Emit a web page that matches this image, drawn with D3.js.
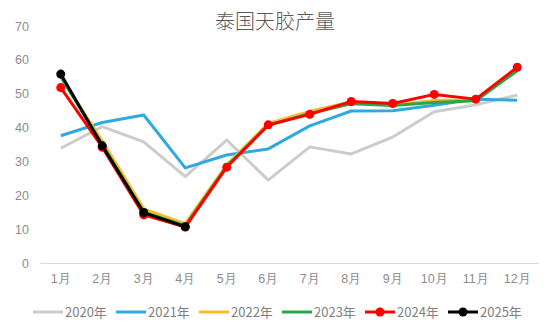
<!DOCTYPE html>
<html><head><meta charset="utf-8">
<script src="https://cdn.jsdelivr.net/npm/d3@7/dist/d3.min.js"></script>
<style>html,body{margin:0;padding:0;background:#fff;}svg{display:block;font-family:"Noto Sans CJK SC","Noto Sans",sans-serif;}</style>
</head><body><svg id="c" width="550" height="326"></svg>
<script>
const months = ["1月","2月","3月","4月","5月","6月","7月","8月","9月","10月","11月","12月"];
const yTicks = [0,10,20,30,40,50,60,70];
const seriesNames = ["2020年","2021年","2022年","2023年","2024年","2025年"];
const colors = ["#cccccc","#2eaae1","#f7bb2e","#28a745","#ff0000","#000000"];
const hasMarkers = [false,false,false,false,true,true];
const v2020 = [33.9,40.3,35.8,25.5,36.3,24.5,34.3,32.2,37.2,44.7,46.7,49.6];
const v2021 = [37.6,41.5,43.7,28.1,31.9,33.7,40.5,44.9,45.0,46.6,48.4,48.1];
const v2022 = [55.0,36.0,16.0,11.6,29.0,41.2,44.8,47.6,46.6,48.0,48.2,57.0];
const v2023 = [55.0,35.0,15.0,11.0,28.6,40.6,44.2,47.0,46.5,47.4,47.9,56.8];
const v2024 = [51.8,34.2,14.2,10.6,28.3,40.8,43.9,47.7,47.1,49.8,48.4,57.8];
const v2025 = [55.8,34.6,14.9,10.7];
const allValues = [v2020,v2021,v2022,v2023,v2024,v2025];

const svg = d3.select("#c");
const x = d3.scaleBand().domain(months).range([40,538]);
const y = d3.scaleLinear().domain([0,70]).range([263,26]);

svg.append("text").attr("x",275).attr("y",29).attr("text-anchor","middle")
  .attr("font-size",20).attr("font-weight",300).attr("fill","#595959").text("泰国天胶产量");

// y axis labels
const ya = svg.append("g").attr("transform","translate(40,0)")
  .call(d3.axisLeft(y).tickValues(yTicks).tickSize(0).tickPadding(11));
ya.select(".domain").remove();
ya.selectAll("text").attr("font-size",12.5).attr("fill","#8c8c8c").attr("font-family","inherit");

// x axis
const xa = svg.append("g").attr("transform","translate(0,263)")
  .call(d3.axisBottom(x).tickSize(0).tickPadding(11));
xa.select(".domain").attr("stroke","#d9d9d9").attr("stroke-width",1);
xa.selectAll("text").attr("font-size",12.5).attr("fill","#8c8c8c").attr("font-family","inherit");

const line = d3.line().x((d,i)=>x(months[i])+x.bandwidth()/2).y(d=>y(d));
allValues.forEach((vals,k)=>{
  svg.append("path").datum(vals).attr("d",line).attr("fill","none")
    .attr("stroke",colors[k]).attr("stroke-width",3).attr("stroke-linejoin","round");
  if(hasMarkers[k]){
    svg.append("g").selectAll("circle").data(vals).join("circle")
      .attr("cx",(d,i)=>x(months[i])+x.bandwidth()/2).attr("cy",d=>y(d))
      .attr("r",4.5).attr("fill",colors[k]);
  }
});

// legend
const lg = svg.append("g");
seriesNames.forEach((n,k)=>{
  const x0 = 33 + k*83, yy = 312;
  lg.append("line").attr("x1",x0).attr("x2",x0+30).attr("y1",yy).attr("y2",yy)
    .attr("stroke",colors[k]).attr("stroke-width",3);
  if(hasMarkers[k]) lg.append("circle").attr("cx",x0+15).attr("cy",yy).attr("r",4.5).attr("fill",colors[k]);
  lg.append("text").attr("x",x0+32).attr("y",yy).attr("dy","0.35em")
    .attr("font-size",13).attr("fill","#808080").text(n);
});
</script></body></html>
